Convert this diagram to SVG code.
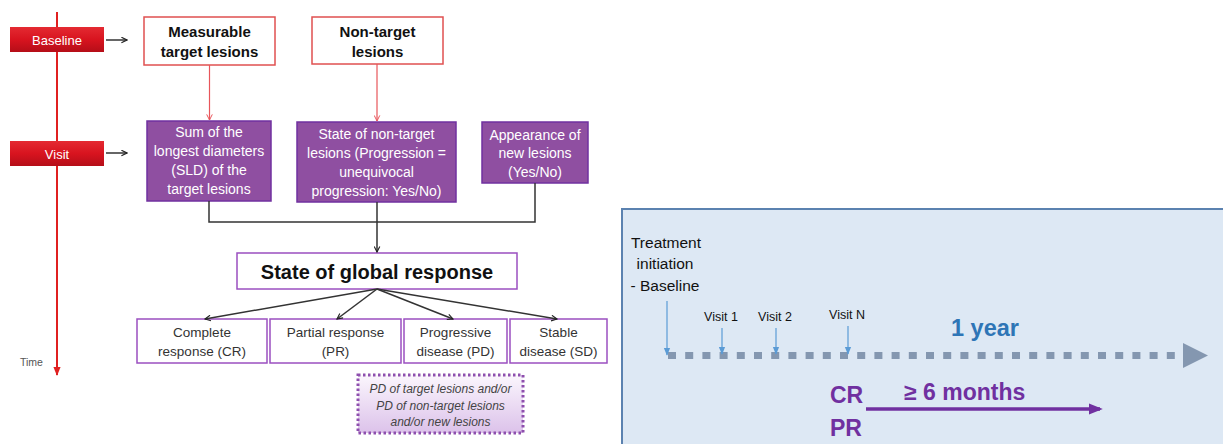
<svg xmlns="http://www.w3.org/2000/svg" width="1223" height="444" viewBox="0 0 1223 444">
<defs>
  <linearGradient id="redg" x1="0" y1="0" x2="0" y2="1">
    <stop offset="0" stop-color="#e42a32"/>
    <stop offset="0.5" stop-color="#d8141f"/>
    <stop offset="1" stop-color="#b50e18"/>
  </linearGradient>
  <linearGradient id="lavg" x1="0" y1="0" x2="0" y2="1">
    <stop offset="0" stop-color="#fbf6fd"/>
    <stop offset="1" stop-color="#dcc2ea"/>
  </linearGradient>
  <marker id="ablk" viewBox="0 0 10 10" refX="9" refY="5" markerWidth="7" markerHeight="7" markerUnits="userSpaceOnUse" orient="auto">
    <path d="M1,1 L9,5 L1,9" fill="none" stroke="#222" stroke-width="1.6"/>
  </marker>
  <marker id="ared" viewBox="0 0 10 10" refX="9" refY="5" markerWidth="7" markerHeight="7" markerUnits="userSpaceOnUse" orient="auto">
    <path d="M1,1 L9,5 L1,9" fill="none" stroke="#e8555a" stroke-width="1.4"/>
  </marker>
  <marker id="atime" viewBox="0 0 10 10" refX="9" refY="5" markerWidth="9" markerHeight="9" markerUnits="userSpaceOnUse" orient="auto">
    <path d="M0,1 L10,5 L0,9 z" fill="#e02020"/>
  </marker>
  <marker id="ablue" viewBox="0 0 10 10" refX="9" refY="5" markerWidth="8" markerHeight="8" markerUnits="userSpaceOnUse" orient="auto">
    <path d="M0,1 L10,5 L0,9 z" fill="#5b9bd5"/>
  </marker>
  <marker id="apur" viewBox="0 0 10 10" refX="8" refY="5" markerWidth="14" markerHeight="14" markerUnits="userSpaceOnUse" orient="auto">
    <path d="M0,1 L10,5 L0,9 z" fill="#7030a0"/>
  </marker>
</defs>
<style>
  text { font-family: "Liberation Sans", Arial, sans-serif; }
  .lbl { fill: url(#redg); }
  .lbltx { fill: #fff; font-size: 13px; text-anchor: middle; }
  .redbox { fill: #fff; stroke: #e05050; stroke-width: 1.5; }
  .redtx { fill: #111; font-size: 15px; font-weight: bold; text-anchor: middle; }
  .pbox { fill: #8f4fa1; stroke: #7030a0; stroke-width: 1.5; }
  .ptx { fill: #fff; font-size: 14px; text-anchor: middle; }
  .wbox { fill: #fff; stroke: #9b4fc0; stroke-width: 1.5; }
  .wtx { fill: #333; font-size: 13.5px; text-anchor: middle; }
  .conn { fill: none; stroke: #333; stroke-width: 1.5; }
  .redconn { fill: none; stroke: #e8555a; stroke-width: 1.2; }
  .itx { fill: #444; font-size: 12px; font-style: italic; text-anchor: middle; }
  .vtx { fill: #111; font-size: 12.5px; text-anchor: middle; }
  .btx { fill: #7030a0; font-size: 23px; font-weight: bold; }
</style>

<!-- Time axis -->
<g id="timeline">
  <line x1="57" y1="12" x2="57" y2="375" stroke="#e02020" stroke-width="2" marker-end="url(#atime)"/>
  <text x="20" y="366" font-size="10.5" fill="#555">Time</text>
</g>

<g id="baseline-label">
  <rect class="lbl" x="10" y="27" width="94" height="25"/>
  <text class="lbltx" x="57" y="44.5">Baseline</text>
</g>
<g id="visit-label">
  <rect class="lbl" x="10" y="141" width="94" height="25"/>
  <text class="lbltx" x="57" y="158.5">Visit</text>
</g>

<g id="measurable">
  <rect class="redbox" x="144" y="17" width="131" height="48"/>
  <text class="redtx" x="209.5" y="37">Measurable</text>
  <text class="redtx" x="209.5" y="57">target lesions</text>
</g>
<g id="nontarget">
  <rect class="redbox" x="312" y="17" width="131" height="47"/>
  <text class="redtx" x="377.5" y="37">Non-target</text>
  <text class="redtx" x="377.5" y="57">lesions</text>
</g>

<g id="sld">
  <rect class="pbox" x="147" y="121" width="124" height="80"/>
  <text class="ptx" x="209" y="137">Sum of the</text>
  <text class="ptx" x="209" y="156">longest diameters</text>
  <text class="ptx" x="209" y="175">(SLD) of the</text>
  <text class="ptx" x="209" y="194">target lesions</text>
</g>
<g id="state-nontarget">
  <rect class="pbox" x="297" y="122" width="159" height="80"/>
  <text class="ptx" x="376.5" y="139">State of non-target</text>
  <text class="ptx" x="376.5" y="158">lesions (Progression =</text>
  <text class="ptx" x="376.5" y="177">unequivocal</text>
  <text class="ptx" x="376.5" y="196">progression: Yes/No)</text>
</g>
<g id="new-lesions">
  <rect class="pbox" x="482" y="122" width="106" height="61"/>
  <text class="ptx" x="535" y="140">Appearance of</text>
  <text class="ptx" x="535" y="158">new lesions</text>
  <text class="ptx" x="535" y="177">(Yes/No)</text>
</g>

<g id="global">
  <rect class="wbox" x="237" y="253" width="280" height="36"/>
  <text x="377" y="279" font-size="20" font-weight="bold" fill="#111" text-anchor="middle">State of global response</text>
</g>

<g id="cr">
  <rect class="wbox" x="137" y="319" width="130" height="44"/>
  <text class="wtx" x="202" y="337">Complete</text>
  <text class="wtx" x="202" y="356">response (CR)</text>
</g>
<g id="pr">
  <rect class="wbox" x="270" y="319" width="131" height="44"/>
  <text class="wtx" x="335.5" y="337">Partial response</text>
  <text class="wtx" x="335.5" y="356">(PR)</text>
</g>
<g id="pd">
  <rect class="wbox" x="404" y="319" width="103" height="44"/>
  <text class="wtx" x="455.5" y="337">Progressive</text>
  <text class="wtx" x="455.5" y="356">disease (PD)</text>
</g>
<g id="sd">
  <rect class="wbox" x="510" y="319" width="97" height="44"/>
  <text class="wtx" x="558.5" y="337">Stable</text>
  <text class="wtx" x="558.5" y="356">disease (SD)</text>
</g>

<g id="pd-note">
  <rect x="358" y="375" width="165" height="58" fill="url(#lavg)" stroke="#8e4fae" stroke-width="3" stroke-dasharray="2.5 2.5"/>
  <text class="itx" x="440.5" y="393">PD of target lesions and/or</text>
  <text class="itx" x="440.5" y="410">PD of non-target lesions</text>
  <text class="itx" x="440.5" y="426">and/or new lesions</text>
</g>

<g id="connectors">
  <line class="conn" x1="106" y1="40" x2="127" y2="40" marker-end="url(#ablk)"/>
  <line class="conn" x1="106" y1="153" x2="127" y2="153" marker-end="url(#ablk)"/>
  <line class="redconn" x1="209.5" y1="65" x2="209.5" y2="120" marker-end="url(#ared)"/>
  <line class="redconn" x1="377" y1="64" x2="377" y2="121" marker-end="url(#ared)"/>
  <path class="conn" d="M209,201 V222 H535 V183"/>
  <line class="conn" x1="377" y1="202" x2="377" y2="252" marker-end="url(#ablk)"/>
  <line class="conn" x1="377" y1="289" x2="205" y2="319" marker-end="url(#ablk)"/>
  <line class="conn" x1="377" y1="289" x2="337" y2="319" marker-end="url(#ablk)"/>
  <line class="conn" x1="377" y1="289" x2="453" y2="319" marker-end="url(#ablk)"/>
  <line class="conn" x1="377" y1="289" x2="557" y2="319" marker-end="url(#ablk)"/>
</g>

<!-- Right panel -->
<g id="panel">
  <rect x="622" y="209" width="610" height="250" fill="#dde8f4" stroke="#5b82b0" stroke-width="2"/>
  <text x="666" y="248" font-size="15.5" fill="#111" text-anchor="middle">Treatment</text>
  <text x="665" y="269" font-size="15.5" fill="#111" text-anchor="middle">initiation</text>
  <text x="665" y="291" font-size="15.5" fill="#111" text-anchor="middle">- Baseline</text>
  <text class="vtx" x="721" y="321">Visit 1</text>
  <text class="vtx" x="775" y="321">Visit 2</text>
  <text class="vtx" x="847" y="319">Visit N</text>
  <line x1="668" y1="355.5" x2="1176" y2="355.5" stroke="#8497b0" stroke-width="7" stroke-dasharray="8 9.2"/>
  <path d="M1183,343 L1208,355.5 L1183,368 z" fill="#8497b0"/>
  <line x1="667" y1="301" x2="667" y2="355" stroke="#5b9bd5" stroke-width="1.2" marker-end="url(#ablue)"/>
  <line x1="722" y1="328" x2="722" y2="354" stroke="#5b9bd5" stroke-width="1.2" marker-end="url(#ablue)"/>
  <line x1="776" y1="328" x2="776" y2="354" stroke="#5b9bd5" stroke-width="1.2" marker-end="url(#ablue)"/>
  <line x1="848" y1="326" x2="848" y2="354" stroke="#5b9bd5" stroke-width="1.2" marker-end="url(#ablue)"/>
  <text x="951" y="336" font-size="23.5" font-weight="bold" fill="#2e75b6">1 year</text>
  <text class="btx" x="830" y="403">CR</text>
  <text class="btx" x="830" y="436">PR</text>
  <text class="btx" x="904" y="400">≥ 6 months</text>
  <line x1="866" y1="409" x2="1100" y2="409" stroke="#7030a0" stroke-width="3.5" marker-end="url(#apur)"/>
</g>
</svg>
